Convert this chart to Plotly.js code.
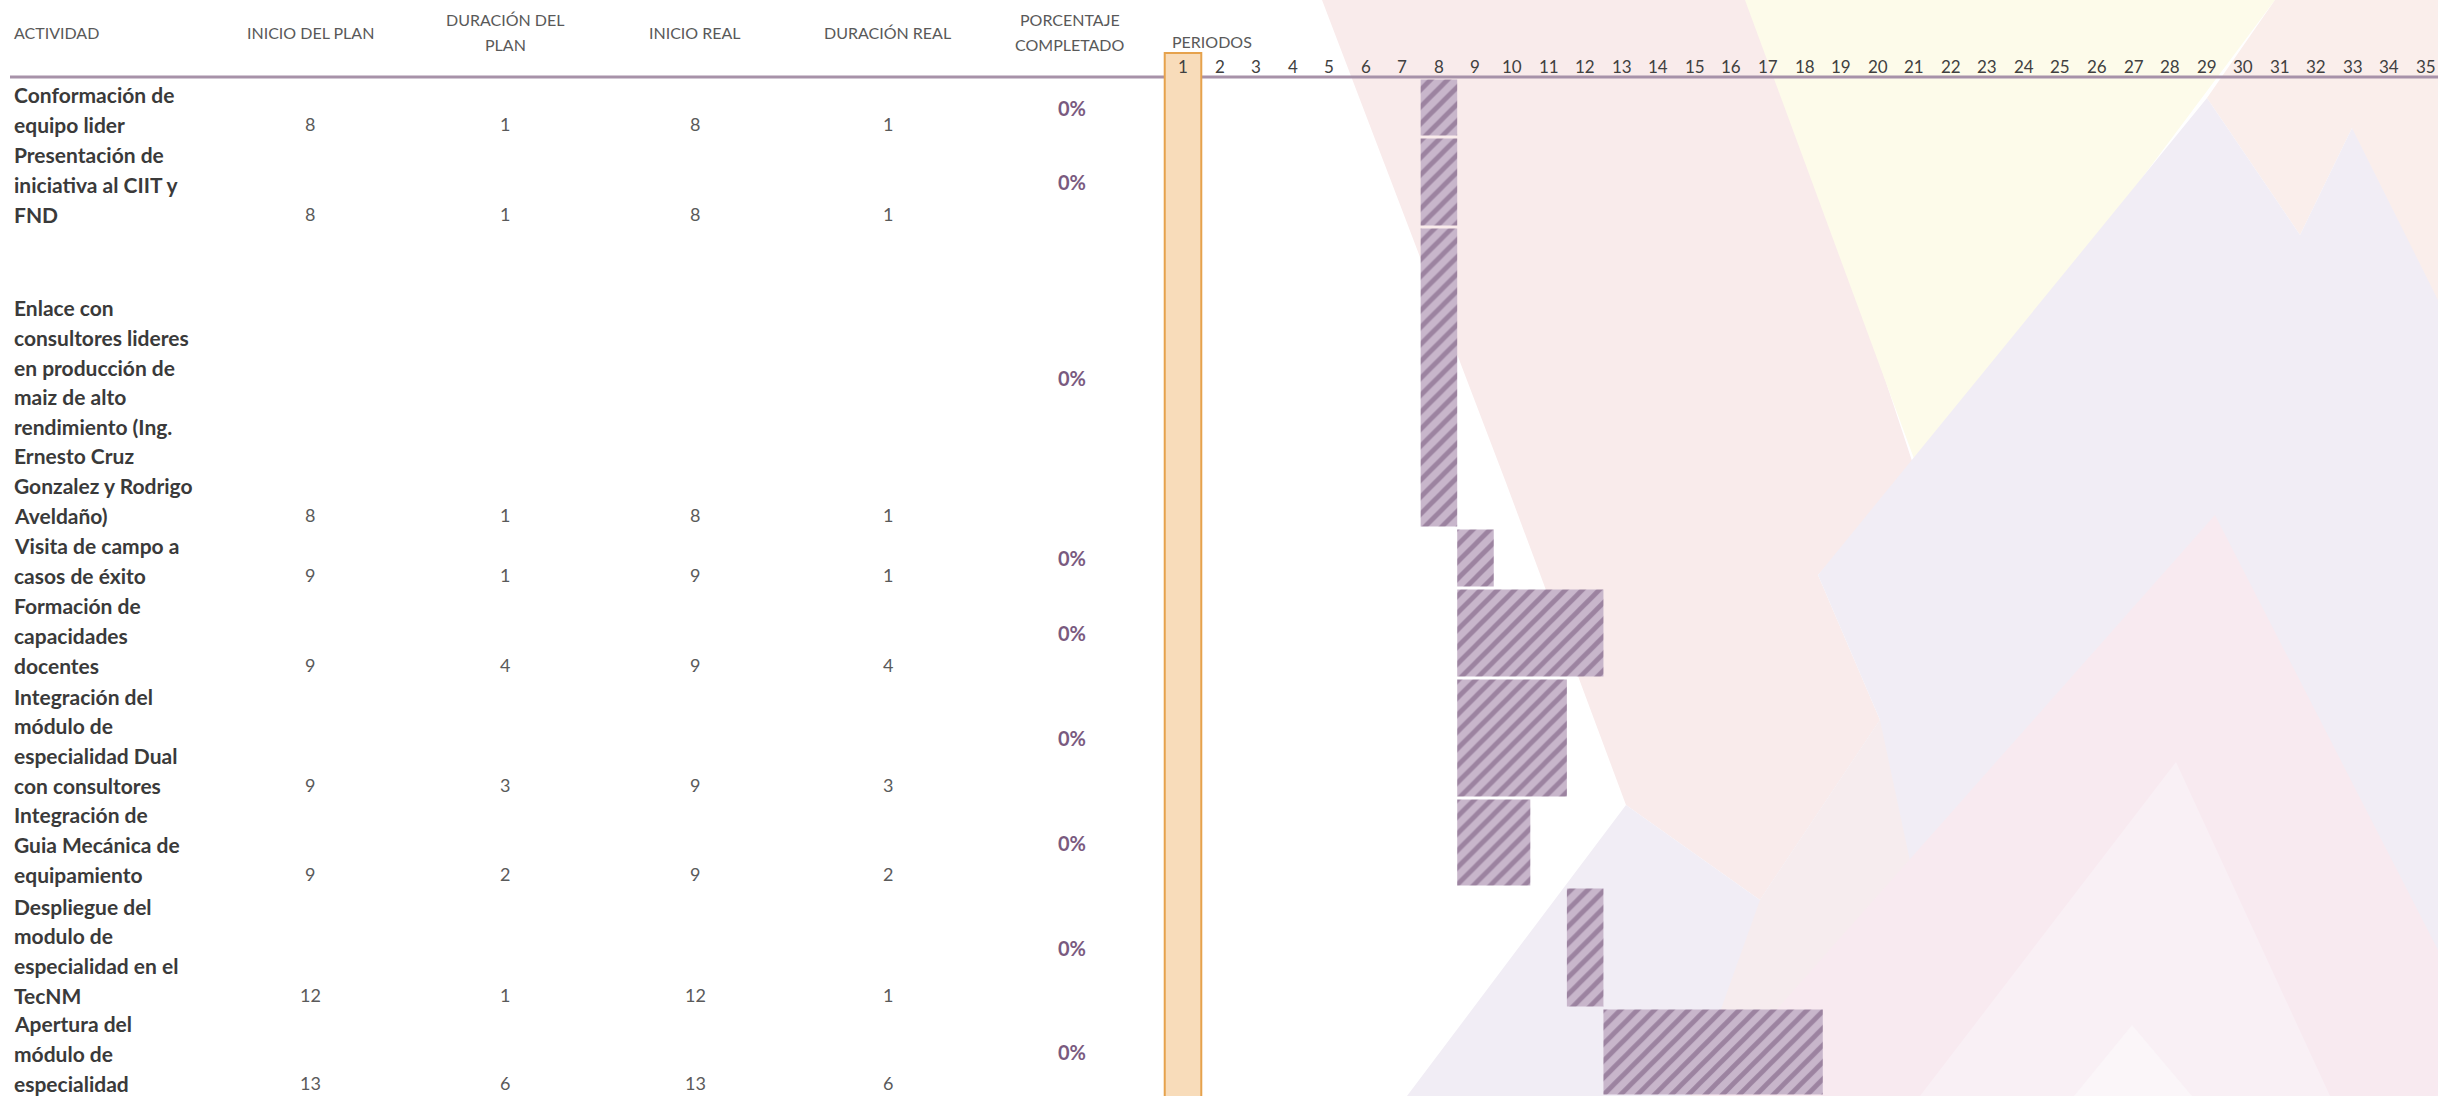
<!DOCTYPE html>
<html>
<head>
<meta charset="utf-8">
<script src="https://cdn.plot.ly/plotly-3.0.1.min.js"></script>
<style>
  html, body { margin: 0; padding: 0; background: #ffffff; }
  #chart { width: 2438px; height: 1096px; }
</style>
</head>
<body>
<div id="chart"></div>
<script>
// ---------------- DATA ----------------
const encabezados = ["ACTIVIDAD", "INICIO DEL PLAN", "DURACIÓN DEL\nPLAN", "INICIO REAL", "DURACIÓN REAL", "PORCENTAJE\nCOMPLETADO"];
const tituloPeriodos = "PERIODOS";
const periodos = [1, 2, 3, 4, 5, 6, 7, 8, 9, 10, 11, 12, 13, 14, 15, 16, 17, 18, 19, 20, 21, 22, 23, 24, 25, 26, 27, 28, 29, 30, 31, 32, 33, 34, 35];
const periodoResaltado = 1;

const actividades = [
  "Conformación de\nequipo lider",
  "Presentación de\niniciativa al CIIT y\nFND",
  "Enlace con\nconsultores lideres\nen producción de\nmaiz de alto\nrendimiento (Ing.\nErnesto Cruz\nGonzalez y Rodrigo\nAveldaño)",
  "Visita de campo a\ncasos de éxito",
  "Formación de\ncapacidades\ndocentes",
  "Integración del\nmódulo de\nespecialidad Dual\ncon consultores",
  "Integración de\nGuia Mecánica de\nequipamiento",
  "Despliegue del\nmodulo de\nespecialidad en el\nTecNM",
  "Apertura del\nmódulo de\nespecialidad"
];
const inicioPlan    = [8, 8, 8, 9, 9, 9, 9, 12, 13];
const duracionPlan  = [1, 1, 1, 1, 4, 3, 2, 1, 6];
const inicioReal    = [8, 8, 8, 9, 9, 9, 9, 12, 13];
const duracionReal  = [1, 1, 1, 1, 4, 3, 2, 1, 6];
const porcentajeCompletado = [0, 0, 0, 0, 0, 0, 0, 0, 0];

// ---------------- LAYOUT (pixels) ----------------
const W = 2438, H = 1096;
const headerBottom = 78;
const rowHeights = [59, 90, 301, 60, 90, 120, 89, 121, 88];
const lineStep = 29.6;
const lastLineOffset = 13;
const colCenters = [310, 505, 695, 888, 1072];   // numeric columns + percent
const headerCenters = [12, 310, 505, 695, 887, 1070];
const period1Center = 1183, periodWidth = 36.56;

const FONT = "Lato, 'Open Sans', sans-serif";
const C_LABEL = "#3a3a3a", C_NUM = "#5a5a5a", C_HEAD = "#595959", C_PCT = "#7a5a7f";

// row bounds
const rowTop = [], rowBottom = [], rowCenter = [];
let acc = headerBottom;
rowHeights.forEach(h => { rowTop.push(acc); acc += h; rowBottom.push(acc); rowCenter.push(acc - h / 2); });

// x axis: period scale, mapped so the axis spans the whole page width
const xRange = [1 - period1Center / periodWidth, 1 + (W - period1Center) / periodWidth];
const px = v => v / W;

const annotations = [];
function addText(text, xPx, yPx, opts) {
  annotations.push(Object.assign({
    text: text, xref: "paper", x: px(xPx), yref: "y", y: yPx,
    showarrow: false, xanchor: "center", yanchor: "middle",
    font: { family: FONT, size: 18, color: C_NUM }
  }, opts || {}));
}

// headers
encabezados.forEach((t, i) => {
  const lines = t.split("\n");
  const ys = lines.length === 1 ? [32] : [19, 44];
  lines.forEach((ln, j) => {
    addText(ln, headerCenters[i], ys[j], {
      xanchor: i === 0 ? "left" : "center",
      font: { family: FONT, size: 16, color: C_HEAD }
    });
  });
});
addText(tituloPeriodos, 1170, 41, { xanchor: "left", font: { family: FONT, size: 16, color: C_HEAD } });

// period numbers (axis scale)
periodos.forEach(p => {
  annotations.push({
    text: String(p), xref: "x", x: p, yref: "y", y: 66, showarrow: false,
    xanchor: "center", yanchor: "middle",
    font: { family: FONT, size: 17, color: "#404040" }
  });
});

// rows
actividades.forEach((a, r) => {
  const lines = a.split("\n");
  const n = lines.length;
  const lastY = rowBottom[r] - lastLineOffset;
  lines.forEach((ln, i) => {
    addText(ln, 12, lastY - (n - 1 - i) * lineStep, {
      xanchor: "left", font: { family: FONT, size: 21, color: C_LABEL, weight: 700 }
    });
  });
  [inicioPlan[r], duracionPlan[r], inicioReal[r], duracionReal[r]].forEach((v, c) => {
    addText(String(v), colCenters[c], lastY, { font: { family: FONT, size: 18, color: C_NUM } });
  });
  addText(porcentajeCompletado[r] + "%", colCenters[4], rowCenter[r], {
    font: { family: FONT, size: 20, color: C_PCT, weight: 700 }
  });
});

// background decoration polygons (pixel coords)
function poly(pts, color) {
  const d = pts.map((p, i) => (i ? "L" : "M") + px(p[0]).toFixed(5) + "," + p[1]).join(" ") + " Z";
  return { type: "path", path: d, xref: "paper", yref: "y", fillcolor: color, line: { width: 0 }, layer: "below" };
}
const shapes = [
  poly([[1322,0],[1760,0],[1915,470],[1818,575],[1880,720],[1760,900],[1626,805],[1505,480]], "#f9ebeb"),
  poly([[1745,0],[2275,0],[1920,475]], "#fdfbea"),
  poly([[2275,0],[2438,0],[2438,520],[2352,128],[2300,235],[2207,98]], "#faeeeb"),
  poly([[2207,98],[2300,235],[2352,128],[2438,300],[2438,1096],[1407,1096],[1626,805],[1760,900],[1880,720],[1818,575]], "#f1edf5"),
  poly([[1760,900],[1880,720],[1960,1096],[1690,1096]], "#f6ecee"),
  poly([[2215,515],[2438,950],[2438,1096],[1700,1096]], "#f8eaf0"),
  poly([[2176,762],[2330,1096],[1920,1096]], "#f9f0f5"),
  poly([[2132,1025],[2192,1096],[2074,1096]], "#fbf6f9"),
  // highlighted period column
  { type: "rect", xref: "x", x0: periodoResaltado - 0.5, x1: periodoResaltado + 0.5, yref: "y", y0: 53, y1: H + 5,
    fillcolor: "#f8dcba", line: { color: "#e6a24c", width: 2 }, layer: "below" },
  // header rule
  { type: "line", xref: "paper", x0: px(10), x1: 1, yref: "y", y0: 77, y1: 77,
    line: { color: "#a792a9", width: 3 }, layer: "below" }
];

const barTrace = {
  type: "bar", orientation: "h",
  y: rowCenter,
  x: duracionPlan,
  base: inicioPlan.map(s => s - 0.5),
  width: rowHeights.map(h => h - 3),
  marker: {
    color: "#c8b6cb",
    line: { width: 0 },
    pattern: { shape: "/", size: 12, solidity: 0.4, fgcolor: "#6f4f76", bgcolor: "#c8b6cb", fillmode: "overlay" }
  },
  hoverinfo: "skip", showlegend: false
};

const layout = {
  width: W, height: H,
  margin: { l: 0, r: 0, t: 0, b: 0, pad: 0 },
  paper_bgcolor: "#ffffff", plot_bgcolor: "rgba(0,0,0,0)",
  showlegend: false, barmode: "overlay",
  xaxis: { range: xRange, visible: false, fixedrange: true },
  yaxis: { range: [H, 0], visible: false, fixedrange: true },
  shapes: shapes,
  annotations: annotations
};

Plotly.newPlot("chart", [barTrace], layout, { staticPlot: true, displayModeBar: false });
</script>
</body>
</html>
